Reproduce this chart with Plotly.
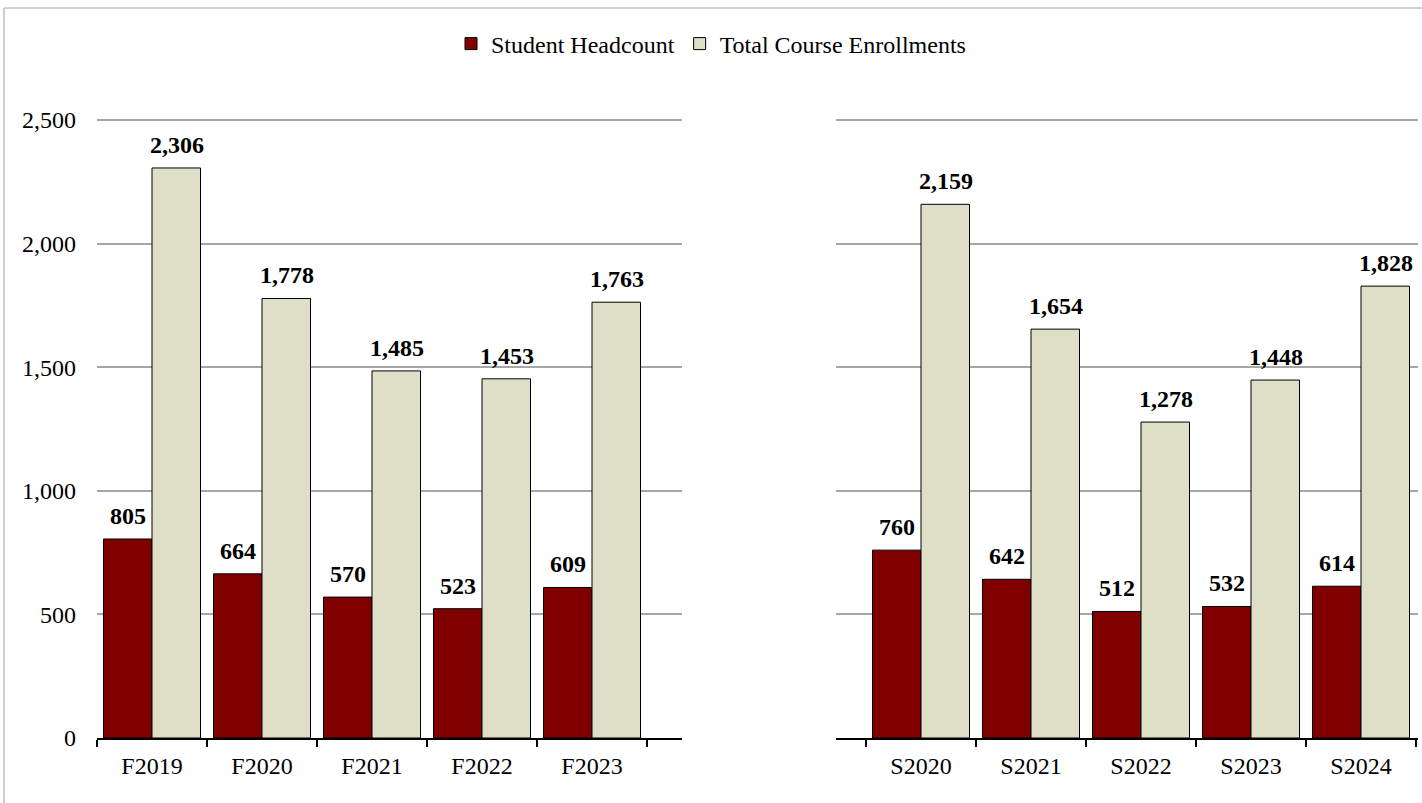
import plotly.graph_objects as go

fall_terms = ["F2019", "F2020", "F2021", "F2022", "F2023"]
fall_headcount = [805, 664, 570, 523, 609]
fall_enrollments = [2306, 1778, 1485, 1453, 1763]

spring_terms = ["S2020", "S2021", "S2022", "S2023", "S2024"]
spring_headcount = [760, 642, 512, 532, 614]
spring_enrollments = [2159, 1654, 1278, 1448, 1828]

y_ticks = [0, 500, 1000, 1500, 2000, 2500]

MAROON = "#800000"
BEIGE = "#DFDFC7"
FONT = "Liberation Serif, Times New Roman, serif"
FS = 24
W, H = 1422, 803

fig = go.Figure()

def add_pair(x, hc, en, xa, ya, legend):
    fig.add_trace(go.Bar(x=x, y=hc, name="Student Headcount", marker=dict(color=MAROON, line=dict(color="black", width=1)),
                         xaxis=xa, yaxis=ya, showlegend=legend, legendgroup="hc"))
    fig.add_trace(go.Bar(x=x, y=en, name="Total Course Enrollments", marker=dict(color=BEIGE, line=dict(color="black", width=1)),
                         xaxis=xa, yaxis=ya, showlegend=legend, legendgroup="en"))

add_pair(fall_terms, fall_headcount, fall_enrollments, "x", "y", True)
add_pair(spring_terms, spring_headcount, spring_enrollments, "x2", "y2", False)

annotations = []
for terms, hc, en, xr, yr in [(fall_terms, fall_headcount, fall_enrollments, "x", "y"),
                              (spring_terms, spring_headcount, spring_enrollments, "x2", "y2")]:
    for t, a, b in zip(terms, hc, en):
        for v, dx in ((a, -24.5), (b, 24.5)):
            annotations.append(dict(x=t, y=v, xref=xr, yref=yr, text=f"{v:,}", showarrow=False,
                                    xshift=dx, yshift=8, yanchor="bottom",
                                    font=dict(family=FONT, size=FS, color="black", weight="bold")))

PX_PER_UNIT = 618 / 2500
Y_TOP = 2510
y0 = (H - 738) / H
y1 = (H - (738 - Y_TOP * PX_PER_UNIT)) / H
lx0, lx1 = 97 / W, 682 / W
rx0, rx1 = 836 / W, 1418 / W

xcommon = dict(type="category", showline=True, linecolor="black", linewidth=2, ticks="outside",
               ticklen=7, tickwidth=2, tickcolor="black", tickson="boundaries", showgrid=False,
               tickfont=dict(family=FONT, size=FS, color="black"), automargin=False, ticklabelstandoff=5)
ycommon = dict(range=[0, Y_TOP], tickvals=y_ticks, showgrid=True, gridcolor="#A6A6A6", gridwidth=1.5,
               zeroline=False, showline=False, ticks="", domain=[y0, y1], automargin=False,
               tickfont=dict(family=FONT, size=FS, color="black"), tickformat=",")

fig.update_layout(
    width=W, height=H,
    margin=dict(l=0, r=0, t=0, b=0),
    paper_bgcolor="white", plot_bgcolor="white",
    barmode="group", bargap=0.118, bargroupgap=0,
    font=dict(family=FONT, size=FS, color="black"),
    xaxis=dict(xcommon, domain=[lx0, lx1], range=[-0.5, -0.5 + (682 - 97) / 110], anchor="y"),
    xaxis2=dict(xcommon, domain=[rx0, rx1], range=[-0.5 - 30 / 110, -0.5 - 30 / 110 + (1418 - 836) / 110], anchor="y2"),
    yaxis=dict(ycommon, anchor="x", showticklabels=True, ticklabelstandoff=20),
    yaxis2=dict(ycommon, anchor="x2", showticklabels=False),
    legend=dict(orientation="h", x=0.5, xanchor="center", y=1 - 44 / H, yanchor="middle",
                font=dict(family=FONT, size=FS, color="black"), itemwidth=30, bgcolor="rgba(0,0,0,0)"),
    annotations=annotations,
    shapes=[dict(type="rect", xref="paper", yref="paper", x0=4 / W, x1=1.02, y0=-0.02, y1=1 - 8 / H,
                 line=dict(color="#A0A0A0", width=1), fillcolor="rgba(0,0,0,0)", layer="below")],
)

fig.write_html("out.html", config={"displayModeBar": False},
               post_script="document.body.style.margin='0';document.body.style.overflow='hidden';")
